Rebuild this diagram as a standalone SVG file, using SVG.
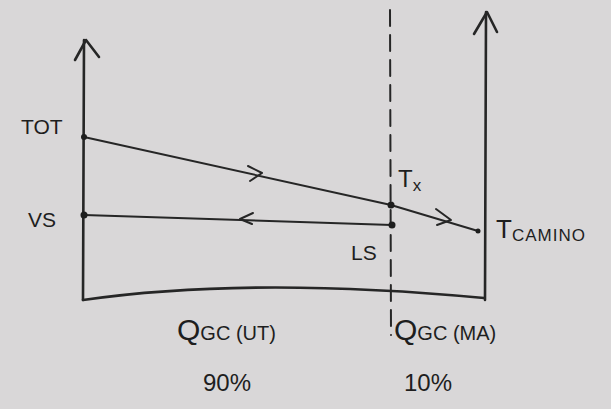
<svg xmlns="http://www.w3.org/2000/svg" width="611" height="409" viewBox="0 0 611 409">
<defs>
<style>
.ln{fill:none;stroke:#262626;stroke-width:2.6;stroke-linecap:round;stroke-linejoin:round}
.th{stroke-width:2}
.t{font-family:"Liberation Sans",Arial,sans-serif;fill:#1e1e1e}
.dot{fill:#1e1e1e}
</style>
</defs>
<rect width="611" height="409" fill="#d9d7d8"/>
<g id="left-axis">
<path class="ln" d="M83,300 L84,40"/>
<path class="ln" d="M75,60 L86,40 L99,57"/>
</g>
<g id="right-axis">
<path class="ln" d="M485,300 L486,12"/>
<path class="ln" d="M474,34 L487,12 L497,32"/>
</g>
<g id="divider">
<path class="ln th" d="M390,10 L391,335" stroke-dasharray="16,9"/>
</g>
<g id="bottom">
<path class="ln" d="M83,300 Q250,276 484,298"/>
</g>
<g id="connectors">
<path class="ln th" d="M84,137 L391,205 L478,231"/>
<path class="ln th" d="M248,166 L262,173 L250,181"/>
<path class="ln th" d="M436,209 L451,220 L437,225"/>
<path class="ln th" d="M84,215 L392,225"/>
<path class="ln th" d="M253,213 L240,219 L252,224"/>
</g>
<g id="points">
<circle class="dot" cx="84" cy="137" r="3"/>
<circle class="dot" cx="84" cy="215" r="3.5"/>
<circle class="dot" cx="391" cy="205" r="3.5"/>
<circle class="dot" cx="392" cy="225" r="3.5"/>
<circle class="dot" cx="478" cy="231" r="2.5"/>
</g>
<g id="labels">
<text class="t" x="21" y="134" font-size="21">TOT</text>
<text class="t" x="28" y="227" font-size="21">VS</text>
<text class="t" x="398" y="187" font-size="24">T<tspan font-size="17" dy="4">x</tspan></text>
<text class="t" x="351" y="260" font-size="21">LS</text>
<text class="t" x="496" y="238" font-size="26">T<tspan font-size="17" dy="3" letter-spacing="1">CAMINO</tspan></text>
<text class="t" x="177" y="340" font-size="30">Q<tspan font-size="20">GC (UT)</tspan></text>
<text class="t" x="203" y="391" font-size="24">90%</text>
<text class="t" x="394" y="340" font-size="30">Q<tspan font-size="20">GC (MA)</tspan></text>
<text class="t" x="404" y="391" font-size="24">10%</text>
</g>
</svg>
